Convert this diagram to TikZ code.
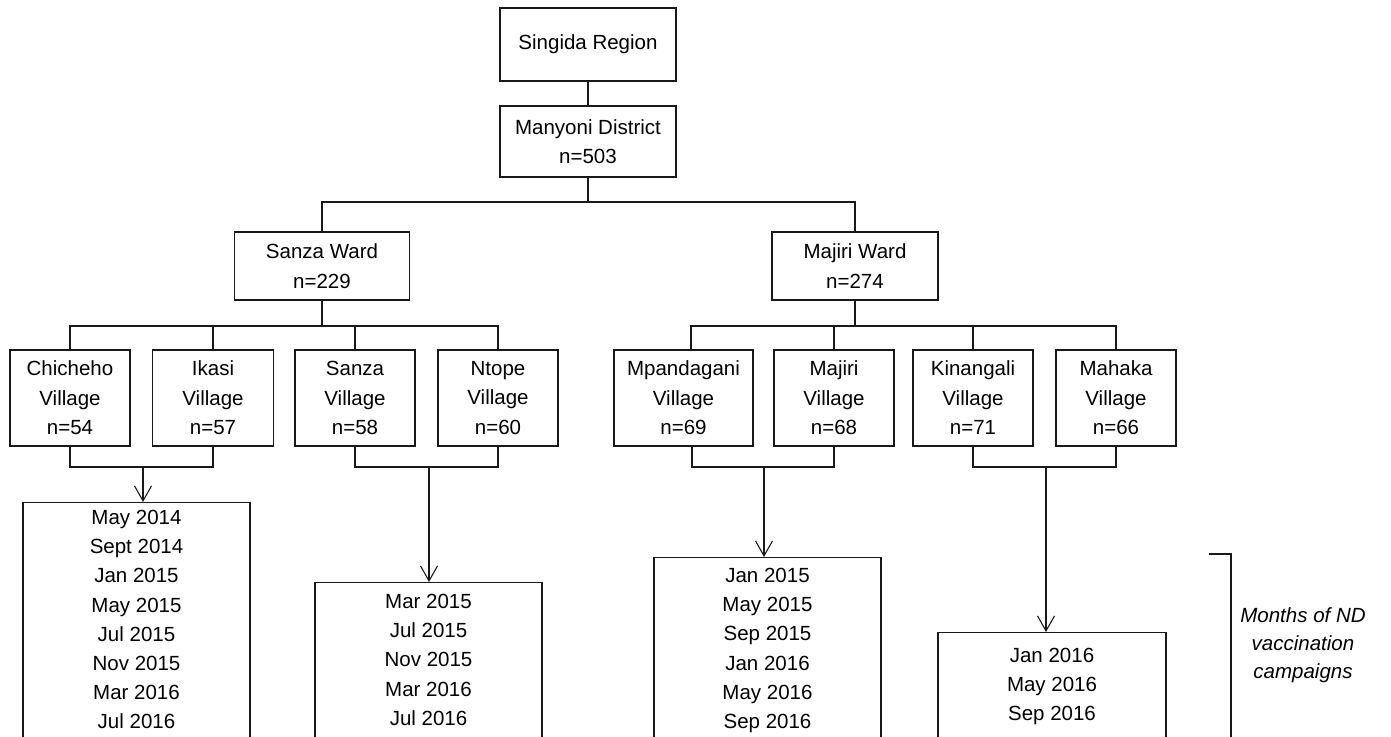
\documentclass[tikz,border=0pt]{standalone}
\usepackage{fontspec}
\setmainfont{Liberation Sans}
\usetikzlibrary{arrows.meta,calc}
\begin{document}
\begin{tikzpicture}[x=1pt,y=-1pt,
  box/.style={draw=black!90, line width=1.1pt, rectangle, inner sep=0pt, align=center,
    font=\fontsize{20.5}{29.5}\selectfont},
  datebox/.style={draw=black!90, line width=1.1pt, rectangle, inner sep=0pt, anchor=north, minimum height=300},
  datetext/.style={inner sep=0pt, anchor=north, align=center, font=\fontsize{20.5}{29.2}\selectfont},
  conn/.style={draw=black!90, line width=1.1pt},
  arr/.style={conn, -{Straight Barb[length=15pt,width=17pt,line width=1.1pt]}},
]
\useasboundingbox (0,0) rectangle (1391,736);
\clip (0,0) rectangle (1391,736);

% top levels
\node[box, minimum width=176, minimum height=73] (sr) at (588,44.5) {Singida Region};
\node[box, minimum width=176, minimum height=71] (md) at (588,141.5) {Manyoni District\\n=503};
\node[box, minimum width=175, minimum height=68] (sw) at (322,266) {Sanza Ward\\n=229};
\node[box, minimum width=166, minimum height=68] (mw) at (855,266) {Majiri Ward\\n=274};

% villages
\node[box, minimum width=120, minimum height=96] (v1) at (70,398) {Chicheho\\Village\\n=54};
\node[box, minimum width=121, minimum height=96] (v2) at (213,398) {Ikasi\\Village\\n=57};
\node[box, minimum width=120, minimum height=96] (v3) at (355,398) {Sanza\\Village\\n=58};
\node[box, minimum width=120, minimum height=96] (v4) at (498,398) {Ntope\\Village\\n=60};
\node[box, minimum width=139, minimum height=96] (v5) at (683.5,398) {Mpandagani\\Village\\n=69};
\node[box, minimum width=120, minimum height=96] (v6) at (834,398) {Majiri\\Village\\n=68};
\node[box, minimum width=120, minimum height=96] (v7) at (973,398) {Kinangali\\Village\\n=71};
\node[box, minimum width=120, minimum height=96] (v8) at (1116,398) {Mahaka\\Village\\n=66};

% date boxes
\node[datebox, minimum width=227] (d1) at (136.5,502) {};
\node[datebox, minimum width=227] (d2) at (428.5,582) {};
\node[datebox, minimum width=227] (d3) at (767.5,557) {};
\node[datebox, minimum width=228] (d4) at (1052,632) {};

\node[datetext] (t1) at ([yshift=-8]d1.north) {May 2014\\Sept 2014\\Jan 2015\\May 2015\\Jul 2015\\Nov 2015\\Mar 2016\\Jul 2016};
\node[datetext] (t2) at ([yshift=-12]d2.north) {Mar 2015\\Jul 2015\\Nov 2015\\Mar 2016\\Jul 2016};
\node[datetext] (t3) at ([yshift=-11]d3.north) {Jan 2015\\May 2015\\Sep 2015\\Jan 2016\\May 2016\\Sep 2016};
\node[datetext] (t4) at ([yshift=-16]d4.north) {Jan 2016\\May 2016\\Sep 2016};

% junction coordinates
\coordinate (j0) at (588,202);
\coordinate (js) at (322,326);
\coordinate (jm) at (855,326);
\coordinate (ja) at (143,467);
\coordinate (jb) at (429,467);
\coordinate (jc) at (764,467);
\coordinate (jd) at (1046,467);

% tree connectors
\draw[conn] (sr.south) -- (md.north);
\draw[conn] (md.south) -- (j0);
\draw[conn] (sw.north) |- (j0) -| (mw.north);
\draw[conn] (sw.south) -- (js);
\draw[conn] (v1.north) |- (js) -| (v4.north);
\draw[conn] (v2.north) -- (v2.north |- js);
\draw[conn] (v3.north) -- (v3.north |- js);
\draw[conn] (mw.south) -- (jm);
\draw[conn] ([xshift=7.5]v5.north) |- (jm) -| (v8.north);
\draw[conn] (v6.north) -- (v6.north |- jm);
\draw[conn] (v7.north) -- (v7.north |- jm);

% bottom brackets and arrows
\draw[conn] (v1.south) |- (ja) -| (v2.south);
\draw[conn] (v3.south) |- (jb) -| (v4.south);
\draw[conn] ([xshift=8.5]v5.south) |- (jc) -| (v6.south);
\draw[conn] (v7.south) |- (jd) -| (v8.south);
\draw[arr] (ja) -- (ja |- d1.north);
\draw[arr] (jb) -- (jb |- d2.north);
\draw[arr] (jc) -- (jc |- d3.north);
\draw[arr] (jd) -- (jd |- d4.north);

% bracket and label
\coordinate (bl) at (1209,554);
\coordinate (bc) at (1231,554);
\coordinate (bb) at (1231,750);
\draw[conn] (bl) -- (bc) -- (bb);
\node[inner sep=0pt, align=center, font=\fontsize{20.5}{28}\selectfont\itshape] (lab) at (1303,645) {Months of ND\\vaccination\\campaigns};
\end{tikzpicture}
\end{document}
